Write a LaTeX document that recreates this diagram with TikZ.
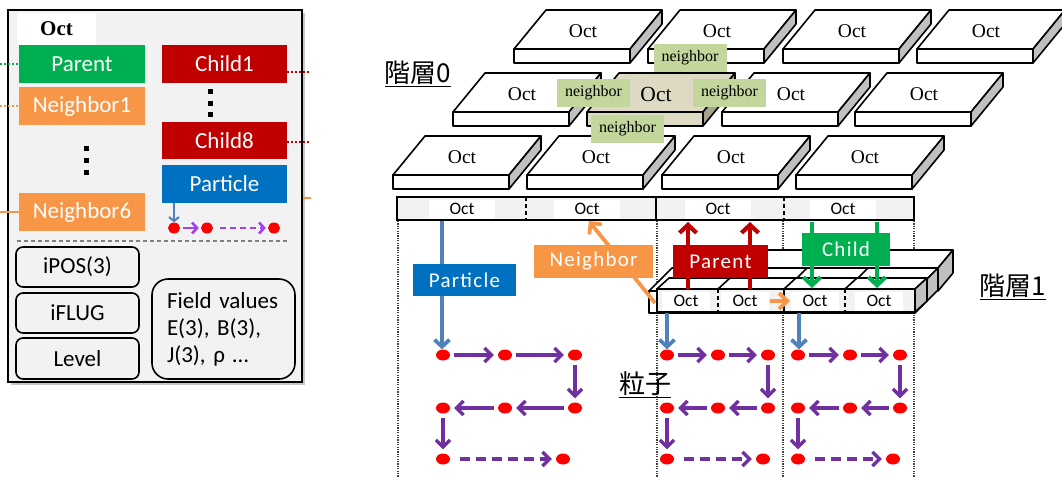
\documentclass[tikz,border=0pt]{standalone}
\usepackage{fontspec}
\setmainfont{Liberation Serif}
\setsansfont{Carlito}
\newfontfamily\widesf[LetterSpace=6]{Carlito}
\newfontfamily\jpfont{Noto Sans CJK JP}
\usetikzlibrary{arrows.meta,shapes.geometric}
\definecolor{cgreen}{HTML}{00B050}
\definecolor{corange}{HTML}{F79646}
\definecolor{cred}{HTML}{C00000}
\definecolor{cblue}{HTML}{0070C0}
\definecolor{arrblue}{HTML}{4F81BD}
\definecolor{arrpurple}{HTML}{7030A0}
\definecolor{lviolet}{HTML}{A040F0}
\definecolor{nbgreen}{HTML}{C3D69B}
\definecolor{hlfill}{HTML}{DDD9C3}
\definecolor{hlside}{HTML}{A6A28C}
\definecolor{slabgrey}{HTML}{C0C0C0}
\definecolor{panelgrey}{HTML}{F2F2F2}
\definecolor{dotgrey}{HTML}{404040}

\newcommand\octslab[6]{%
  \filldraw[slabline, fill=#4] (#2,#3) -- ++(116,0) -- ++(32,-39) -- ++(-116,0) -- cycle;
  \filldraw[slabline, fill=#5] (#2+116,#3) -- ++(32,-39) -- ++(0,14) -- ++(-32,39) -- cycle;
  \filldraw[slabline, fill=#4] (#2,#3) rectangle ++(116,14);
  \node[#6] (#1) at (#2+69,#3-18) {Oct};
}
\newcommand\pcol[5]{%
  \node[pdot] (#1a) at (#2,355) {};
  \node[pdot] (#1b) at (#3,355) {};
  \node[pdot] (#1c) at (#4,355) {};
  \node[pdot] (#1d) at (#2,408) {};
  \node[pdot] (#1e) at (#3,408) {};
  \node[pdot] (#1f) at (#4,408) {};
  \node[pdot] (#1g) at (#2,459) {};
  \node[pdot] (#1h) at (#5,459) {};
  \draw[parr] (#1a) -- (#1b);
  \draw[parr] (#1b) -- (#1c);
  \draw[parr] (#1c) -- (#1f);
  \draw[parr] (#1f) -- (#1e);
  \draw[parr] (#1e) -- (#1d);
  \draw[parr] (#1d) -- (#1g);
  \draw[parr, dash pattern=on 10pt off 6pt, shorten <=10pt] (#1g) -- (#1h);
}

\begin{document}
\begin{tikzpicture}[x=1pt,y=-1pt,
  slabline/.style={draw=black, line width=1.6pt, line join=round},
  slabtxt/.style={font=\fontsize{19.5}{21}\selectfont, inner sep=0pt},
  hltxt/.style={font=\fontsize{21.5}{23}\selectfont, inner sep=0pt},
  nbl/.style={fill=nbgreen, font=\fontsize{16}{18}\selectfont, minimum width=73pt, minimum height=28pt, inner sep=0pt},
  barlbl/.style={fill=white, font=\sffamily\fontsize{17.5}{20}\selectfont, minimum height=19pt, inner sep=0pt},
  rbox/.style={text=white, font=\widesf\fontsize{21}{25}\selectfont, inner sep=0pt},
  lbox/.style={text=white, font=\sffamily\fontsize{23}{27}\selectfont, inner sep=0pt, minimum height=38pt},
  rbx/.style={draw=black, line width=1.6pt, rounded corners=7pt, font=\sffamily\fontsize{23}{27}\selectfont, inner sep=0pt, minimum width=123pt},
  sqdot/.style={rectangle, fill=black, minimum size=5pt, inner sep=0pt},
  pdot/.style={ellipse, fill=red, minimum width=14pt, minimum height=11pt, inner sep=0pt},
  ldot/.style={ellipse, fill=red, minimum width=12pt, minimum height=11pt, inner sep=0pt},
  parr/.style={draw=arrpurple, line width=3.3pt, -{Straight Barb[length=7pt,width=14pt]}, shorten <=4pt, shorten >=4pt},
  lparr/.style={draw=lviolet, line width=2.6pt, -{Straight Barb[length=5pt,width=11pt]}, shorten <=3pt, shorten >=2pt},
  barr/.style={draw=arrblue, line width=3.8pt, -{Straight Barb[length=7pt,width=15pt]}},
  rarr/.style={draw=cred, line width=4.2pt, -{Straight Barb[length=8pt,width=17pt]}},
  garr/.style={draw=cgreen, line width=4.2pt, -{Straight Barb[length=8pt,width=17pt]}},
  oarr/.style={draw=corange, line width=3.8pt, -{Straight Barb[length=8pt,width=16pt]}},
  divdash/.style={line width=2.4pt, dash pattern=on 4pt off 3pt},
  vdots/.style={draw=dotgrey, line width=1.8pt, dash pattern=on 1.2pt off 1.2pt},
  jp/.style={font=\jpfont\fontsize{26}{28}\selectfont, inner sep=0pt}
]
\useasboundingbox (0,0) rectangle (1062,479);
\fill[white] (0,0) rectangle (1062,479);

% ---------------- left panel ----------------
\fill[gray!45] (11,13) rectangle (305,385);
\draw[fill=panelgrey, line width=2.4pt] (8,10) rectangle (302,382);
\node[fill=white, minimum width=79pt, minimum height=32pt, inner sep=0pt,
      font=\bfseries\fontsize{21}{24}\selectfont] (ltitle) at (56.5,29) {Oct};

\coordinate (sL1) at (0,64);
\coordinate (sL2) at (0,106);
\coordinate (sL3) at (0,212);
\coordinate (sR1a) at (287,72);  \coordinate (sR1b) at (309,72);
\coordinate (sR2a) at (287,142); \coordinate (sR2b) at (309,142);
\coordinate (sR3a) at (303,198); \coordinate (sR3b) at (311,198);

\node[lbox, fill=cgreen, minimum width=126pt] (lpar) at (82,64) {Parent};
\node[lbox, fill=corange, minimum width=126pt] (ln1) at (82,106) {Neighbor1};
\node[lbox, fill=corange, minimum width=126pt] (ln6) at (82,212) {Neighbor6};
\node[lbox, fill=cred, minimum width=125pt] (lc1) at (224.5,64) {Child1};
\node[lbox, fill=cred, minimum width=125pt, minimum height=37pt] (lc8) at (224.5,140.5) {Child8};
\node[lbox, fill=cblue, minimum width=125pt] (lpt) at (224.5,184) {Particle};

\draw[cgreen, line width=2pt, dash pattern=on 2pt off 2pt] (sL1) -- (lpar.west);
\draw[corange, line width=2pt, dash pattern=on 2pt off 2pt] (sL2) -- (ln1.west);
\draw[corange, line width=2pt] (sL3) -- (ln6.west);
\draw[cred, line width=2pt, dash pattern=on 2pt off 2pt] (sR1a) -- (sR1b);
\draw[cred, line width=2pt, dash pattern=on 2pt off 2pt] (sR2a) -- (sR2b);
\draw[corange, line width=2pt] (sR3a) -- (sR3b);

\node[sqdot] (ldA1) at (86,148) {};
\node[sqdot] (ldA2) at (86,160) {};
\node[sqdot] (ldA3) at (86,172) {};
\node[sqdot] (ldB1) at (210,91) {};
\node[sqdot] (ldB2) at (210,103) {};
\node[sqdot] (ldB3) at (210,114) {};

\node[ldot] (ld1) at (174,228) {};
\node[ldot] (ld2) at (207,228) {};
\node[ldot] (ld3) at (274,228) {};
\draw[draw=arrblue, line width=2pt, -{Straight Barb[length=4pt,width=10pt]}] (lpt.south -| ld1) -- (ld1.north);
\draw[lparr] (ld1) -- (ld2);
\draw[lparr, dash pattern=on 6pt off 4pt, shorten <=7pt] (ld2) -- (ld3);

\coordinate (dsA) at (17,241); \coordinate (dsB) at (290,241);
\draw[gray, line width=1.2pt, dash pattern=on 4pt off 3pt] (dsA) -- (dsB);

\node[rbx, minimum height=40pt] (ipos) at (77.5,267) {iPOS(3)};
\node[rbx, minimum height=40pt] (iflug) at (77.5,313) {iFLUG};
\node[rbx, minimum height=41pt] (lvl) at (77.5,358.5) {Level};
\node[draw=black, line width=1.6pt, rounded corners=16pt, inner xsep=15pt, inner ysep=0pt,
      text width=113pt, minimum height=100pt, align=left,
      font=\sffamily\fontsize{23}{27}\selectfont] (fv) at (223.5,329)
      {Field values\\E(3), B(3),\\J(3), ρ …};

% ---------------- level 0 slabs ----------------
\octslab{A1}{514}{49}{white}{slabgrey}{slabtxt}
\octslab{A2}{648}{49}{white}{slabgrey}{slabtxt}
\octslab{A3}{783}{49}{white}{slabgrey}{slabtxt}
\octslab{A4}{917}{49}{white}{slabgrey}{slabtxt}
\octslab{B1}{453}{112}{white}{slabgrey}{slabtxt}
\octslab{B2}{587}{112}{hlfill}{hlside}{hltxt}
\octslab{B3}{722}{112}{white}{slabgrey}{slabtxt}
\octslab{B4}{855}{112}{white}{slabgrey}{slabtxt}
\octslab{C1}{393}{175}{white}{slabgrey}{slabtxt}
\octslab{C2}{527}{175}{white}{slabgrey}{slabtxt}
\octslab{C3}{662}{175}{white}{slabgrey}{slabtxt}
\octslab{C4}{796}{175}{white}{slabgrey}{slabtxt}

\node[nbl] (nTop) at (690,58) {neighbor};
\node[nbl] (nLeft) at (593.5,93) {neighbor};
\node[nbl] (nRight) at (729.5,93) {neighbor};
\node[nbl] (nBot) at (627.5,128.5) {neighbor};

\node[jp] (lv0) at (418,74) {\underline{階層0}};

% ---------------- level 0 flat bar ----------------
\draw[fill=panelgrey, line width=2.5pt] (397,197) rectangle (914,220);
\coordinate (d0a) at (526,197); \coordinate (d0b) at (526,220);
\coordinate (d0c) at (656,197); \coordinate (d0d) at (656,220);
\coordinate (d0e) at (784,197); \coordinate (d0f) at (784,220);
\draw[divdash] (d0a) -- (d0b);
\draw[line width=2.4pt] (d0c) -- (d0d);
\draw[divdash] (d0e) -- (d0f);
\node[barlbl, minimum width=66pt] (b0a) at (462,209) {Oct};
\node[barlbl, minimum width=66pt] (b0b) at (587,209) {Oct};
\node[barlbl, minimum width=66pt] (b0c) at (718,209) {Oct};
\node[barlbl, minimum width=66pt] (b0d) at (843,209) {Oct};

% dotted guides
\coordinate (v1t) at (398,221); \coordinate (v1b) at (398,477);
\coordinate (v2t) at (657,221); \coordinate (v2b) at (657,477);
\coordinate (v3t) at (783,221); \coordinate (v3b) at (783,477);
\coordinate (v4t) at (914,221); \coordinate (v4b) at (914,477);
\draw[vdots] (v1t) -- (v1b);
\draw[vdots] (v2t) -- (v2b);
\draw[vdots] (v3t) -- (v3b);
\draw[vdots] (v4t) -- (v4b);

% ---------------- level 1 bars ----------------
\filldraw[slabline, fill=white] (700,268) -- (938,268) -- (953,250) -- (715,250) -- cycle;
\filldraw[slabline, fill=slabgrey] (938,268) -- (953,250) -- (953,273) -- (938,291) -- cycle;
\filldraw[slabline, fill=white] (649,291) -- (915,291) -- (938,268) -- (672,268) -- cycle;
\filldraw[slabline, fill=slabgrey] (915,291) -- (938,268) -- (938,290) -- (915,313) -- cycle;
\filldraw[slabline, fill=white] (649,291) rectangle (915,313);
\draw[slabline] (718,291) -- (741,268);
\draw[slabline] (784,291) -- (807,268);
\draw[slabline] (845,291) -- (868,268);
\filldraw[slabline, fill=white] (657,289) -- (915,289) -- (927,278) -- (669,278) -- cycle;
\filldraw[slabline, fill=slabgrey] (915,289) -- (927,278) -- (927,301) -- (915,312) -- cycle;
\draw[slabline] (718,289) -- (730,278);
\draw[slabline] (784,289) -- (796,278);
\draw[slabline] (845,289) -- (857,278);
\draw[fill=panelgrey, line width=2.5pt] (657,289) rectangle (915,312);
\coordinate (d1a) at (718,289); \coordinate (d1b) at (718,312);
\coordinate (d1c) at (784,289); \coordinate (d1d) at (784,312);
\coordinate (d1e) at (845,289); \coordinate (d1f) at (845,312);
\draw[divdash] (d1a) -- (d1b);
\draw[line width=2.4pt] (d1c) -- (d1d);
\draw[divdash] (d1e) -- (d1f);
\node[barlbl, minimum width=48pt] (l1a) at (686,301) {Oct};
\node[barlbl, minimum width=48pt] (l1b) at (745,301) {Oct};
\node[barlbl, minimum width=48pt] (l1c) at (815,301) {Oct};
\node[barlbl, minimum width=48pt] (l1d) at (879,301) {Oct};

\node[jp] (lv1) at (1013,287) {\underline{階層1}};

% ---------------- connectors ----------------
\coordinate (nbS) at (655,303);
\draw[oarr, shorten >=3pt] (nbS) -- (b0b.south);
\draw[oarr, shorten <=1pt, shorten >=1pt] (l1b.east) -- (l1c.west);

\coordinate (bl1) at (442,221);
\coordinate (bl2) at (667,313);
\coordinate (bl3) at (799,313);

\coordinate (ra1) at (688,289); \coordinate (ra1e) at (688,222);
\coordinate (ra2) at (750,289); \coordinate (ra2e) at (750,222);
\coordinate (ga1) at (812,222); \coordinate (ga1e) at (812,288);
\coordinate (ga2) at (877,222); \coordinate (ga2e) at (877,288);
\draw[rarr] (ra1) -- (ra1e);
\draw[rarr] (ra2) -- (ra2e);
\draw[garr] (ga1) -- (ga1e);
\draw[garr] (ga2) -- (ga2e);

\pcol{p1}{443}{505}{575}{563}
\pcol{p2}{667}{718}{768}{763}
\pcol{p3}{798}{850}{900}{893}

\draw[barr] (bl1) -- (bl1 |- p1a.north);
\draw[barr] (bl2) -- (bl2 |- p2a.north);
\draw[barr] (bl3) -- (bl3 |- p3a.north);

\node[rbox, fill=cblue, minimum width=103pt, minimum height=32pt] (rPart) at (464.5,280) {Particle};
\node[rbox, fill=corange, minimum width=119pt, minimum height=33pt] (rNb) at (593.5,261.5) {Neighbor};
\node[rbox, fill=cred, minimum width=95pt, minimum height=33pt] (rPar) at (720.5,261.5) {Parent};
\node[rbox, fill=cgreen, minimum width=88pt, minimum height=33pt] (rCh) at (846,249.5) {Child};

\node[jp] (ptl) at (645,385) {\underline{粒子}};
\end{tikzpicture}
\end{document}
